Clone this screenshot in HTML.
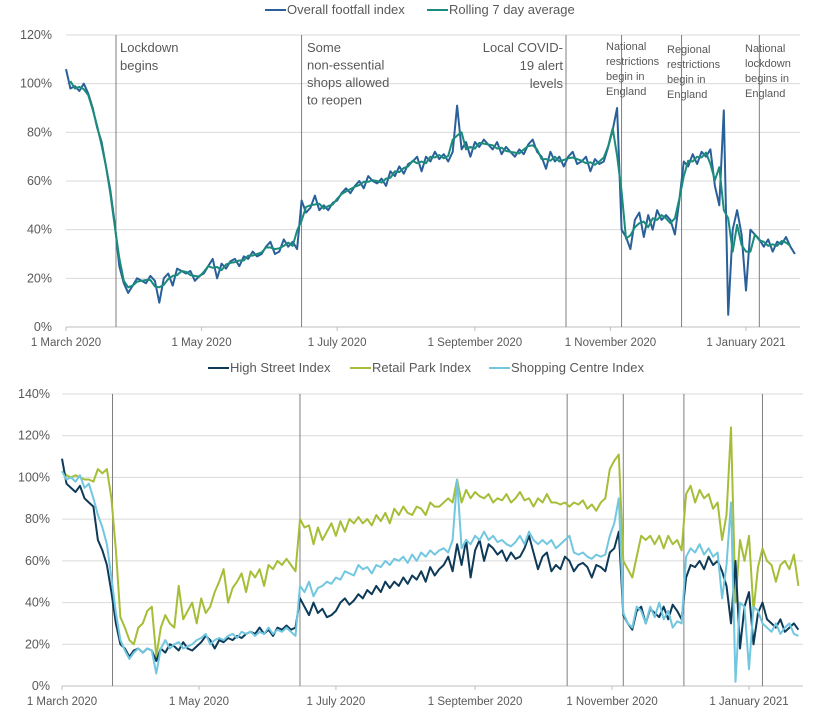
<!DOCTYPE html>
<html><head><meta charset="utf-8">
<style>
body{margin:0;background:#fff;width:833px;height:710px;overflow:hidden}
svg{display:block;font-family:"Liberation Sans",sans-serif}
text{fill:#595959}
</style></head>
<body>
<svg id="chart" width="833" height="710" viewBox="0 0 833 710" xmlns="http://www.w3.org/2000/svg">
  <g id="topChart"></g>
  <g id="botChart"></g>
</svg>
<script>
// ---- data (sampled every 2 days from 1 March 2020) ----
const sampleDays = [];
for (let d = 0; d <= 328; d += 2) sampleDays.push(d);
const overallIndex = [106,98,99,97,100,96,90,82,76,66,56,42,25,18,14,17,20,19,18,21,19,10,20,22,17,24,23,22,23,19,21,22,25,28,20,26,24,27,28,25,29,28,31,29,30,33,35,30,31,36,33,35,32,52,47,49,54,48,50,48,51,52,55,57,55,58,60,57,62,60,59,61,58,64,62,66,63,67,68,70,64,70,68,72,69,71,68,72,91,73,76,70,76,74,77,75,73,76,71,74,72,70,73,71,75,77,72,70,65,72,68,70,66,70,72,67,68,70,64,69,67,68,74,81,90,40,37,32,44,47,37,46,40,48,44,46,44,38,52,68,66,71,67,72,70,73,58,50,89,5,40,48,38,15,40,38,36,33,36,31,35,34,37,33,30];
const highStreet = [109,97,95,93,96,90,88,86,70,65,58,45,30,20,18,14,17,18,16,18,17,12,18,16,20,19,17,21,18,17,19,21,24,22,18,22,21,23,22,24,23,25,26,25,28,25,27,24,28,27,29,27,28,42,38,34,40,35,37,33,34,36,40,42,39,41,44,42,46,44,48,45,50,47,50,48,52,49,53,51,55,50,57,53,56,58,62,55,68,58,70,52,65,70,60,68,66,63,65,60,64,61,62,66,72,64,56,62,64,55,58,56,62,60,55,58,59,57,52,58,57,55,64,66,74,34,30,27,36,38,30,37,35,33,38,32,39,36,32,52,58,57,60,56,62,58,60,55,48,30,60,18,38,45,20,35,40,32,30,28,32,26,28,30,27,25];
const retailPark = [103,101,100,101,100,99,99,98,104,102,104,90,65,33,28,22,20,28,30,36,38,14,28,34,30,28,48,32,36,40,30,42,35,38,45,50,56,40,47,50,54,45,55,52,56,48,58,56,60,58,61,58,55,80,76,77,68,76,70,74,78,72,79,74,80,78,81,78,80,77,82,79,83,78,85,82,86,83,82,86,85,82,88,86,86,88,90,88,99,88,94,90,93,91,90,92,88,90,89,92,88,90,93,89,90,86,90,88,92,88,88,87,88,86,88,87,89,85,87,84,88,90,104,108,111,60,56,52,62,72,70,72,68,72,66,72,68,70,65,92,96,88,94,90,92,85,88,70,82,124,40,70,60,72,36,57,66,60,58,50,58,60,56,63,48];
const shoppingCentre = [103,99,100,98,101,95,97,90,82,76,68,52,35,22,17,13,16,18,16,18,17,6,18,22,18,20,21,18,19,20,22,23,25,20,22,23,22,24,25,23,26,25,26,24,26,25,28,25,27,26,28,26,24,48,45,50,43,47,48,50,49,52,51,55,54,53,58,56,57,54,58,57,60,58,61,60,62,59,63,60,64,62,65,63,65,66,64,70,99,66,70,68,72,70,74,70,72,69,70,68,67,69,72,68,74,70,68,70,68,70,66,68,70,72,64,63,64,62,61,63,62,63,72,78,90,35,30,28,38,36,30,38,33,40,32,36,28,31,30,62,66,64,68,63,66,62,64,42,58,88,2,40,38,8,38,36,30,28,26,30,25,28,30,25,24];
const eventDays = [22.5,106,225,250,277,312];
const xTickLabels = ["1 March 2020","1 May 2020","1 July 2020","1 September 2020","1 November 2020","1 January 2021"];
const xTickDays = [0,61,122,184,245,306];

const NS = "http://www.w3.org/2000/svg";
function mk(parent, tag, attrs, text) {
  const e = document.createElementNS(NS, tag);
  for (const k in attrs) e.setAttribute(k, attrs[k]);
  if (text !== undefined) e.textContent = text;
  parent.appendChild(e);
  return e;
}
function pathFrom(xs, ys, sx, sy) {
  let d = "";
  const n = Math.min(xs.length, ys.length);
  for (let i = 0; i < n; i++) d += (i ? "L" : "M") + sx(xs[i]).toFixed(1) + "," + sy(ys[i]).toFixed(1);
  return d;
}
function annot(parent, x, y, lines, size, lh, anchor, name) {
  const t = mk(parent, "text", {x: x, y: y, "font-size": size, "text-anchor": anchor || "start"});
  
  
  lines.forEach((s, i) => mk(t, "tspan", {x: x, y: y + i * lh}, s));
}
function legend(parent, x, y, color, label, name) {
  const g = mk(parent, "g", {});
  
  
  mk(g, "line", {x1: x, x2: x + 21, y1: y - 4, y2: y - 4, stroke: color, "stroke-width": 2});
  mk(g, "text", {x: x + 22, y: y, "font-size": 13}, label);
}

// ---------- TOP CHART ----------
const topG = document.getElementById("topChart");
const T = {x0: 66, x1: 800, y0: 327, y1: 35, max: 120, dayPx: (746 - 66) / 306};
const tx = d => T.x0 + d * T.dayPx;
const ty = v => T.y0 - v / T.max * (T.y0 - T.y1);
for (let v = 0; v <= 120; v += 20) {
  const g = mk(topG, "line", {x1: T.x0, x2: T.x1, y1: ty(v), y2: ty(v), stroke: v ? "#d9d9d9" : "#bfbfbf", "stroke-width": 1});
  
  
  const t = mk(topG, "text", {x: 52, y: ty(v) + 4, "text-anchor": "end", "font-size": 12.5}, v + "%");
  
  
}
xTickDays.forEach((d, i) => {
  mk(topG, "line", {x1: tx(d), x2: tx(d), y1: T.y0, y2: T.y0 + 4, stroke: "#bfbfbf"});
  const t = mk(topG, "text", {x: tx(d), y: 346, "text-anchor": "middle", "font-size": 11.5}, xTickLabels[i]);
  
  
});
eventDays.forEach(d => {
  const l = mk(topG, "line", {x1: tx(d), x2: tx(d), y1: T.y1, y2: T.y0, stroke: "#7f7f7f", "stroke-width": 1});
  
  
});
const op = mk(topG, "path", {d: pathFrom(sampleDays, overallIndex, tx, ty), fill: "none", stroke: "#2a6099", "stroke-width": 2, "stroke-linejoin": "round"});


const rollDays = [], rollVals = [];
for (let i = 1; i < overallIndex.length - 1; i++) {
  rollDays.push(sampleDays[i]);
  rollVals.push((overallIndex[i - 1] + overallIndex[i] + overallIndex[i + 1]) / 3);
}
const rp = mk(topG, "path", {d: pathFrom(rollDays, rollVals, tx, ty), fill: "none", stroke: "#1b8c7c", "stroke-width": 2, "stroke-linejoin": "round"});



annot(topG, 120, 52, ["Lockdown", "begins"], 13, 18, "start", "annotation-lockdown");
annot(topG, 307, 52, ["Some", "non-essential", "shops allowed", "to reopen"], 13, 17.5, "start", "annotation-shops-reopen");
annot(topG, 563, 52, ["Local COVID-", "19 alert", "levels"], 13, 18, "end", "annotation-local-alert");
annot(topG, 606, 50, ["National", "restrictions", "begin in", "England"], 11, 15, "start", "annotation-national-restrictions");
annot(topG, 667, 53, ["Regional", "restrictions", "begin in", "England"], 11, 15, "start", "annotation-regional-restrictions");
annot(topG, 745, 52, ["National", "lockdown", "begins in", "England"], 11, 15, "start", "annotation-national-lockdown");
legend(topG, 265, 14, "#2a6099", "Overall footfall index", "legend-overall");
legend(topG, 427, 14, "#1b8c7c", "Rolling 7 day average", "legend-rolling");

// ---------- BOTTOM CHART ----------
const botG = document.getElementById("botChart");
const B = {x0: 62, x1: 803, y0: 686, y1: 394, max: 140, dayPx: (749 - 62) / 306};
const bx = d => B.x0 + d * B.dayPx;
const by = v => B.y0 - v / B.max * (B.y0 - B.y1);
for (let v = 0; v <= 140; v += 20) {
  const g = mk(botG, "line", {x1: B.x0, x2: B.x1, y1: by(v), y2: by(v), stroke: v ? "#d9d9d9" : "#bfbfbf", "stroke-width": 1});
  
  
  const t = mk(botG, "text", {x: 50, y: by(v) + 4, "text-anchor": "end", "font-size": 12.5}, v + "%");
  
  
}
xTickDays.forEach((d, i) => {
  mk(botG, "line", {x1: bx(d), x2: bx(d), y1: B.y0, y2: B.y0 + 4, stroke: "#bfbfbf"});
  const t = mk(botG, "text", {x: bx(d), y: 705, "text-anchor": "middle", "font-size": 11.5}, xTickLabels[i]);
  
  
});
eventDays.forEach(d => {
  const l = mk(botG, "line", {x1: bx(d), x2: bx(d), y1: B.y1, y2: B.y0, stroke: "#7f7f7f", "stroke-width": 1});
  
  
});
const rpl = mk(botG, "path", {d: pathFrom(sampleDays, retailPark, bx, by), fill: "none", stroke: "#a5be37", "stroke-width": 2, "stroke-linejoin": "round"});


const hsl = mk(botG, "path", {d: pathFrom(sampleDays, highStreet, bx, by), fill: "none", stroke: "#0d3a58", "stroke-width": 2, "stroke-linejoin": "round"});


const scl = mk(botG, "path", {d: pathFrom(sampleDays, shoppingCentre, bx, by), fill: "none", stroke: "#72c7e0", "stroke-width": 2, "stroke-linejoin": "round"});



legend(botG, 208, 372, "#0d3a58", "High Street Index", "legend-high-street");
legend(botG, 350, 372, "#a5be37", "Retail Park Index", "legend-retail-park");
legend(botG, 489, 372, "#72c7e0", "Shopping Centre Index", "legend-shopping-centre");
</script>
</body></html>
